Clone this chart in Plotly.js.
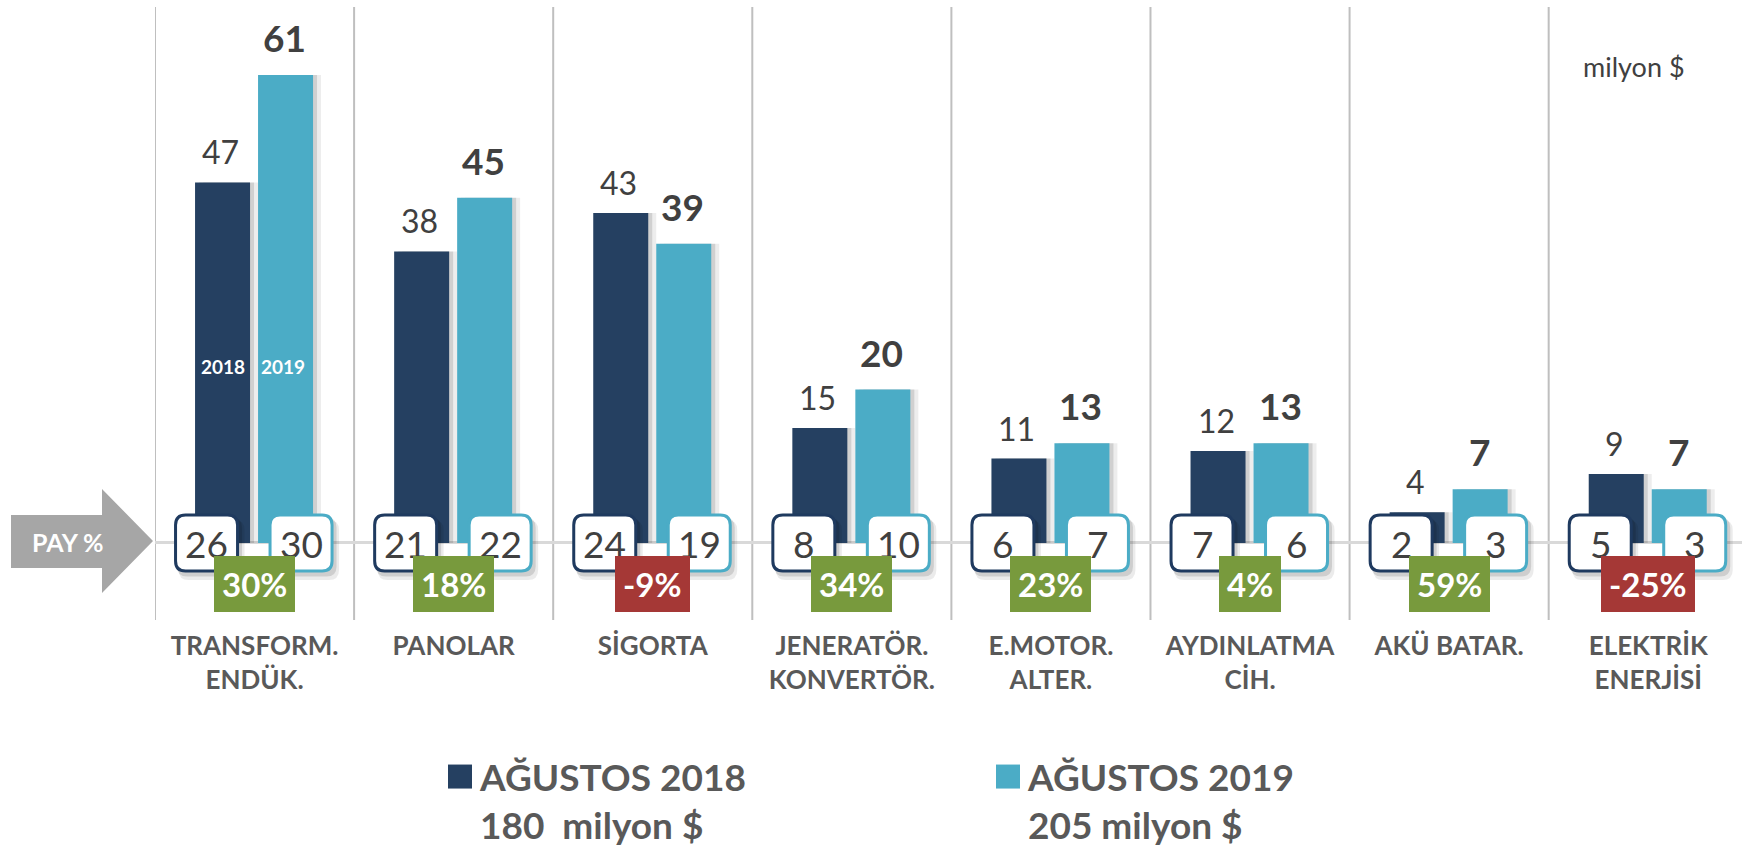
<!DOCTYPE html>
<html><head><meta charset="utf-8">
<script src="https://cdn.plot.ly/plotly-3.0.1.min.js"></script>
<style>html,body{margin:0;padding:0;background:#fff;}#chart{width:1742px;height:851px;}</style>
</head><body><div id="chart"></div>
<script>
// ---------- data ----------
const categories = ['TRANSFORM.<br>ENDÜK.', 'PANOLAR', 'SİGORTA', 'JENERATÖR.<br>KONVERTÖR.',
  'E.MOTOR.<br>ALTER.', 'AYDINLATMA<br>CİH.', 'AKÜ BATAR.', 'ELEKTRİK<br>ENERJİSİ'];
const values2018 = [47, 38, 43, 15, 11, 12, 4, 9];
const values2019 = [61, 45, 39, 20, 13, 13, 7, 7];
const share2018 = [26, 21, 24, 8, 6, 7, 2, 5];
const share2019 = [30, 22, 19, 10, 7, 6, 3, 3];
const changePct = [30, 18, -9, 34, 23, 4, 59, -25];
const seriesNames = ['AĞUSTOS 2018<br>180\u00a0 milyon $', 'AĞUSTOS 2019<br>205 milyon $'];
const yearTags = ['2018', '2019'];
const unitLabel = 'milyon $';
const payLabel = 'PAY %';

// ---------- style / geometry ----------
const W = 1742, H = 851;
const M = {l: 155, r: 0, t: 7, b: 231};
const xRange = [-0.5, 7.471];
const yRange = [-10.04, 69.86];
const plotW = W - M.l - M.r, plotH = H - M.t - M.b;
const pxX = plotW / (xRange[1] - xRange[0]);
const C18 = '#254061', C19 = '#4BACC6';
const FONT = 'Lato, "Open Sans", sans-serif';
const barPx = 55, off18 = -59.5, off19 = 3.5;
const baseFrac = (0 - yRange[0]) / (yRange[1] - yRange[0]);

function barTrace(vals, color, offPx, name, extra) {
  return Object.assign({
    type: 'bar', x: categories, y: vals, name: name,
    marker: {color: color, line: {width: 0}},
    width: barPx / pxX, offset: offPx / pxX,
    hoverinfo: 'skip', showlegend: true
  }, extra || {});
}

const traces = [
  barTrace(values2018, 'rgba(0,0,0,0.12)', off18 + 4, '', {showlegend: false}),
  barTrace(values2018, 'rgba(0,0,0,0.07)', off18 + 8, '', {showlegend: false}),
  barTrace(values2019, 'rgba(0,0,0,0.12)', off19 + 4, '', {showlegend: false}),
  barTrace(values2019, 'rgba(0,0,0,0.07)', off19 + 8, '', {showlegend: false}),
  barTrace(values2018, C18, off18, seriesNames[0]),
  barTrace(values2019, C19, off19, seriesNames[1])
];

function roundRect(cx, cy, hw, hh, r) {
  const x0 = cx - hw, x1 = cx + hw, y0 = cy - hh, y1 = cy + hh;
  return `M${x0 + r},${y1} L${x1 - r},${y1} Q${x1},${y1} ${x1},${y1 - r} L${x1},${y0 + r} Q${x1},${y0} ${x1 - r},${y0} ` +
         `L${x0 + r},${y0} Q${x0},${y0} ${x0},${y0 + r} L${x0},${y1 - r} Q${x0},${y1} ${x0 + r},${y1} Z`;
}

const shapes = [];
// category separators
categories.forEach((c, i) => {
  shapes.push({type: 'line', xref: 'x', yref: 'paper', x0: i - 0.5, x1: i - 0.5, y0: 0, y1: 1,
    line: {color: '#BFBFBF', width: 2}, layer: 'below'});
});
// PAY % arrow
shapes.push({type: 'path', xref: 'paper', yref: 'paper', xsizemode: 'pixel', ysizemode: 'pixel',
  xanchor: 0, yanchor: baseFrac,
  path: 'M-144,28 L-53,28 L-53,54 L-2,2 L-53,-50 L-53,-25 L-144,-25 Z',
  fillcolor: '#A6A6A6', line: {width: 0}, layer: 'above'});

const boxCx = [-48, 46.5];
const annotations = [];
categories.forEach((c, i) => {
  [share2018, share2019].forEach((arr, s) => {
    const cx = boxCx[s];
    // soft shadow
    shapes.push({type: 'path', xref: 'x', yref: 'y', xsizemode: 'pixel', ysizemode: 'pixel',
      xanchor: i, yanchor: 0, path: roundRect(cx + 5, -7, 33, 30, 10),
      fillcolor: 'rgba(0,0,0,0.08)', line: {width: 0}, layer: 'above'});
    shapes.push({type: 'path', xref: 'x', yref: 'y', xsizemode: 'pixel', ysizemode: 'pixel',
      xanchor: i, yanchor: 0, path: roundRect(cx + 3, -4, 32.5, 29.5, 10),
      fillcolor: 'rgba(0,0,0,0.12)', line: {width: 0}, layer: 'above'});
    shapes.push({type: 'path', xref: 'x', yref: 'y', xsizemode: 'pixel', ysizemode: 'pixel',
      xanchor: i, yanchor: 0, path: roundRect(cx, 0, 31, 28, 10),
      fillcolor: '#FFFFFF', line: {color: s === 0 ? '#1F3A5F' : C19, width: 3}, layer: 'above'});
    annotations.push({x: i, y: 0, xref: 'x', yref: 'y', xshift: cx, yshift: -1, yanchor: 'middle',
      text: String(arr[i]), showarrow: false, font: {family: FONT, size: 37, color: '#404040'}});
  });
  // value labels
  annotations.push({x: i, y: values2018[i], xref: 'x', yref: 'y', xshift: -34, yshift: 9, yanchor: 'bottom',
    text: String(values2018[i]), showarrow: false, font: {family: FONT, size: 32, color: '#404040'}});
  annotations.push({x: i, y: values2019[i], xref: 'x', yref: 'y', xshift: 30, yshift: 13, yanchor: 'bottom',
    text: String(values2019[i]), showarrow: false, font: {family: FONT, size: 37, color: '#404040', weight: 700}});
});
// change % boxes
categories.forEach((c, i) => {
  annotations.push({x: i, y: 0, xref: 'x', yref: 'y', yshift: -41.5, yanchor: 'middle',
    text: changePct[i] + '%', showarrow: false, bgcolor: changePct[i] >= 0 ? '#789A3D' : '#A53836',
    borderpad: 8, borderwidth: 0, font: {family: FONT, size: 33, color: '#FFFFFF', weight: 700}});
});
// year tags inside the first pair of bars
annotations.push({x: 0, y: values2018[0] / 2, xref: 'x', yref: 'y', xshift: -32, yshift: -4,
  text: yearTags[0], showarrow: false, font: {family: FONT, size: 19, color: '#FFFFFF', weight: 700}});
annotations.push({x: 0, y: values2018[0] / 2, xref: 'x', yref: 'y', xshift: 28, yshift: -4,
  text: yearTags[1], showarrow: false, font: {family: FONT, size: 19, color: '#FFFFFF', weight: 700}});
// PAY % label
annotations.push({x: 0, y: baseFrac, xref: 'paper', yref: 'paper', xanchor: 'center', yanchor: 'middle',
  xshift: -88, yshift: 1,
  text: payLabel, showarrow: false, font: {family: FONT, size: 25, color: '#FFFFFF', weight: 700}});
// unit label
annotations.push({x: (1634 - M.l) / plotW, y: (H - M.b - 66) / plotH, xref: 'paper', yref: 'paper',
  xanchor: 'center', yanchor: 'middle',
  text: unitLabel, showarrow: false, font: {family: FONT, size: 27, color: '#404040'}});

const layout = {
  width: W, height: H, margin: Object.assign({autoexpand: false}, M),
  paper_bgcolor: '#FFFFFF', plot_bgcolor: '#FFFFFF',
  barmode: 'overlay', showlegend: true,
  xaxis: {type: 'category', range: xRange, showgrid: false, zeroline: false, showline: false, ticks: '',
    tickfont: {family: FONT, size: 26, color: '#595959', weight: 700}, ticklabelstandoff: 8, fixedrange: true},
  yaxis: {range: yRange, showgrid: false, showticklabels: false, ticks: '', showline: false,
    zeroline: true, zerolinecolor: '#D9D9D9', zerolinewidth: 3, fixedrange: true},
  legend: {orientation: 'h', x: (440 - M.l) / plotW, xanchor: 'left', y: -(746 - (H - M.b)) / plotH, yanchor: 'top',
    font: {family: FONT, size: 37, color: '#595959', weight: 700}, valign: 'top', entrywidth: 503,
    bgcolor: 'rgba(0,0,0,0)', itemclick: false, itemdoubleclick: false},
  shapes: shapes, annotations: annotations
};

Plotly.newPlot('chart', traces, layout, {displayModeBar: false, staticPlot: true}).then(gd => {
  gd.querySelectorAll('.legend .legendpoints path').forEach(p => {
    p.setAttribute('transform', ((p.getAttribute('transform') || '') + ' scale(2)').trim());
  });
});
</script>
</body></html>
